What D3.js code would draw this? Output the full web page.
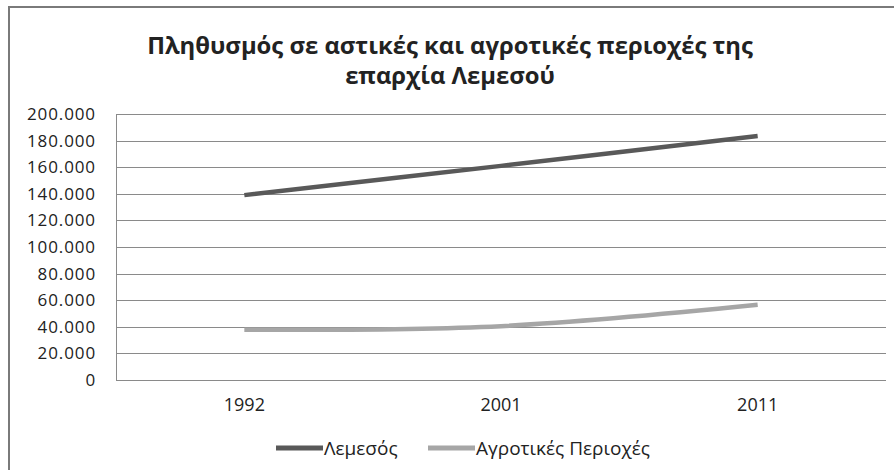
<!DOCTYPE html>
<html>
<head>
<meta charset="utf-8">
<script src="https://cdn.jsdelivr.net/npm/d3@7"></script>
<style>
  html, body { margin: 0; padding: 0; background: #fff; }
  svg { display: block; }
  text { font-family: "Open Sans", "Noto Sans", sans-serif; fill: #222; }
</style>
</head>
<body>
<svg id="chart" width="894" height="470"></svg>
<script>
const titleLines = ["Πληθυσμός σε αστικές και αγροτικές περιοχές της", "επαρχία Λεμεσού"];
const years = ["1992", "2001", "2011"];
const seriesNames = ["Λεμεσός", "Αγροτικές Περιοχές"];
const lemesosValues = [139000, 161000, 183500];
const agrotikesValues = [37800, 40500, 56500];
const yTicks = [0, 20000, 40000, 60000, 80000, 100000, 120000, 140000, 160000, 180000, 200000];
const seriesColors = ["#595959", "#a6a6a6"];

const series = [
  { name: seriesNames[0], values: lemesosValues, color: seriesColors[0] },
  { name: seriesNames[1], values: agrotikesValues, color: seriesColors[1] }
];

const svg = d3.select("#chart");
const W = 894, H = 470;
const plot = { left: 116, right: 886, top: 114, bottom: 380 };

const locale = d3.formatLocale({ decimal: ",", thousands: ".", grouping: [3], currency: ["", "€"] });
const fmt = locale.format(",.0f");

// outer border
svg.append("rect").attr("x", 9).attr("y", 7).attr("width", W + 10).attr("height", H + 10)
  .attr("fill", "#fff").attr("stroke", "#7a7a7a").attr("stroke-width", 2);

// title
const title = svg.append("g");
const t1 = title.append("text").attr("x", 450).attr("y", 54).attr("text-anchor", "middle")
  .attr("font-weight", "bold").attr("font-size", 22).attr("fill", "#111").text(titleLines[0]);
const w1 = t1.node().getComputedTextLength();
const fs = 22 * 606 / w1;
t1.attr("font-size", fs);
title.append("text").attr("x", 450).attr("y", 84).attr("text-anchor", "middle")
  .attr("font-weight", "bold").attr("font-size", fs).attr("fill", "#111").text(titleLines[1]);

const x = d3.scaleBand().domain(years).range([plot.left, plot.right]);
const y = d3.scaleLinear().domain([0, 200000]).range([plot.bottom, plot.top]);

// gridlines
svg.append("g").selectAll("line").data(yTicks).join("line")
  .attr("x1", plot.left).attr("x2", plot.right)
  .attr("y1", d => Math.round(y(d)) + 0.5).attr("y2", d => Math.round(y(d)) + 0.5)
  .attr("stroke", "#8a8a8a").attr("stroke-width", 1);

// left axis line
svg.append("line").attr("x1", plot.left + 0.5).attr("x2", plot.left + 0.5)
  .attr("y1", plot.top).attr("y2", plot.bottom + 1)
  .attr("stroke", "#8a8a8a").attr("stroke-width", 1);

// y axis labels
const yAxis = d3.axisLeft(y).tickValues(yTicks).tickFormat(fmt).tickSize(0).tickPadding(20);
const gy = svg.append("g").attr("transform", `translate(${plot.left},0)`).call(yAxis);
gy.select(".domain").remove();
gy.selectAll("text").attr("font-size", 17).attr("fill", "#222")
  .attr("font-family", "'Open Sans', sans-serif").attr("letter-spacing", 0.9);

// x axis labels
const xAxis = d3.axisBottom(x).tickSize(0).tickPadding(18);
const gx = svg.append("g").attr("transform", `translate(0,${plot.bottom})`).call(xAxis);
gx.select(".domain").remove();
gx.selectAll("text").attr("font-size", 18).attr("fill", "#222")
  .attr("font-family", "'Open Sans', sans-serif");

// lines
const line = d3.line()
  .x((d, i) => x(years[i]) + x.bandwidth() / 2)
  .y(d => y(d))
  .curve(d3.curveCatmullRom.alpha(0.5));

svg.append("g").selectAll("path").data(series).join("path")
  .attr("d", d => line(d.values))
  .attr("fill", "none").attr("stroke", d => d.color).attr("stroke-width", 4.5);

// legend
const legendItems = [{ s: series[0], x: 276 }, { s: series[1], x: 428 }];
const lg = svg.append("g");
legendItems.forEach(it => {
  lg.append("line").attr("x1", it.x).attr("x2", it.x + 47).attr("y1", 448).attr("y2", 448)
    .attr("stroke", it.s.color).attr("stroke-width", 5);
  lg.append("text").attr("x", it.x + 48).attr("y", 455).attr("font-size", 19)
    .attr("fill", "#222").text(it.s.name);
});
</script>
</body>
</html>
